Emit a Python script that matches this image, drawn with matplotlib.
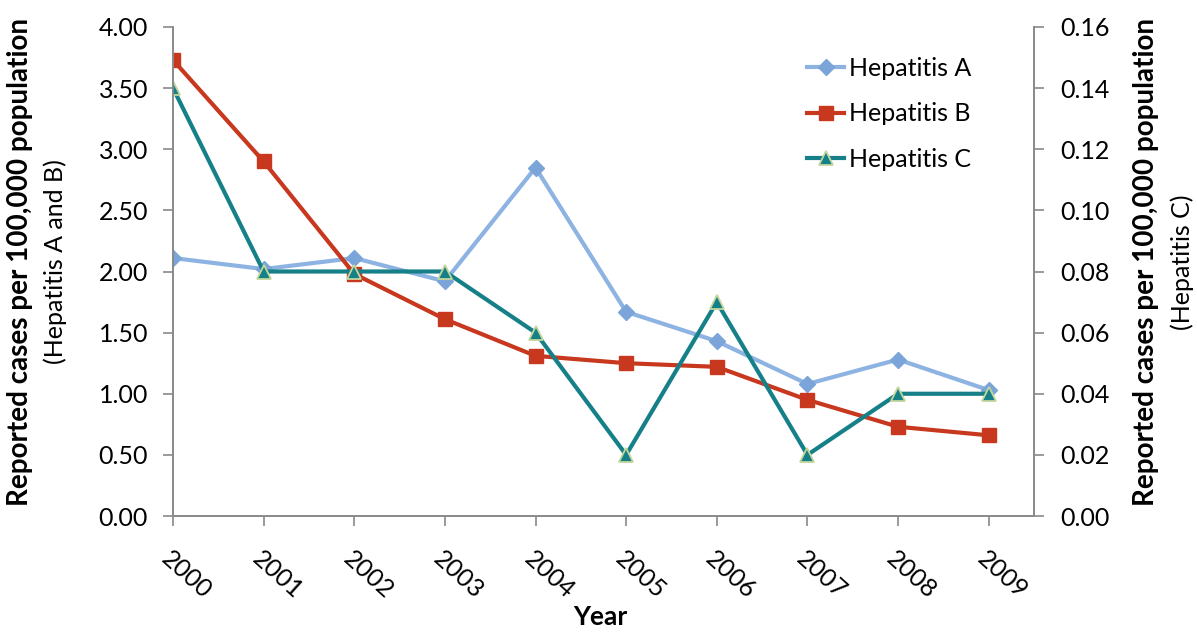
import matplotlib
matplotlib.use("Agg")
import matplotlib.pyplot as plt

plt.rcParams['font.family'] = ['Lato', 'DejaVu Sans']

years = ['2000', '2001', '2002', '2003', '2004', '2005', '2006', '2007', '2008', '2009']
hep_a = [2.11, 2.02, 2.11, 1.92, 2.85, 1.67, 1.43, 1.08, 1.28, 1.03]
hep_b = [3.73, 2.90, 1.98, 1.61, 1.31, 1.25, 1.22, 0.95, 0.73, 0.66]
hep_c = [0.14, 0.08, 0.08, 0.08, 0.06, 0.02, 0.07, 0.02, 0.04, 0.04]

x = list(range(len(years)))
W, H = 1197, 632

fig = plt.figure(figsize=(W / 100, H / 100), dpi=100)
ax = fig.add_axes([173/W, 1 - 516/H, (1034 - 173)/W, (516 - 27)/H])
ax2 = ax.twinx()

la, = ax.plot(x, hep_a, color='#8DB3E2', lw=3, marker='D', ms=8,
              mfc='#7BA4D8', mec='#7BA4D8', label='Hepatitis A')
lb, = ax.plot(x, hep_b, color='#C8381E', lw=3, marker='s', ms=10,
              mfc='#C8381E', mec='#C8381E', label='Hepatitis B')
lc, = ax2.plot(x, hep_c, color='#168089', lw=3, marker='^', ms=10,
               mfc='#168089', mec='#C3D69B', mew=1.3, label='Hepatitis C')

ax.set_xlim(0, 9.5)
ax.set_ylim(0, 4)
ax2.set_ylim(0, 0.16)
ax.set_yticks([i * 0.5 for i in range(9)])
ax.set_yticklabels(['%.2f' % (i * 0.5) for i in range(9)])
ax2.set_yticks([i * 0.02 for i in range(9)])
ax2.set_yticklabels(['%.2f' % (i * 0.02) for i in range(9)])
ax.set_xticks(x)
ax.set_xticklabels(years, rotation=-42, ha='left', va='top', rotation_mode='anchor')

for a in (ax, ax2):
    for s in a.spines.values():
        s.set_color('#898989')
        s.set_linewidth(1.2)
    a.spines['top'].set_visible(False)
    a.tick_params(colors='#898989', labelcolor='black', labelsize=18, length=7, width=1.2)
ax.tick_params(axis='y', pad=11)
ax2.tick_params(axis='y', pad=12)
ax.tick_params(axis='x', pad=15)

# axis titles
fig.text(20/W, 1 - 262/H, 'Reported cases per 100,000 population', rotation=90,
         ha='center', va='center', fontsize=20, fontweight='bold')
fig.text(55/W, 1 - 262/H, '(Hepatitis A and B)', rotation=90,
         ha='center', va='center', fontsize=18)
fig.text(1146/W, 1 - 262/H, 'Reported cases per 100,000 population', rotation=90,
         ha='center', va='center', fontsize=20, fontweight='bold')
fig.text(1182/W, 1 - 262/H, '(Hepatitis C)', rotation=90,
         ha='center', va='center', fontsize=18)
fig.text(600/W, 3/H, 'Year', ha='center', va='bottom', fontsize=19, fontweight='bold')

ax.legend(handles=[la, lb, lc], loc='upper left', bbox_to_anchor=(0.71, 0.985),
          frameon=False, fontsize=18, handlelength=1.5, labelspacing=0.9,
          handletextpad=0.2)

fig.savefig('out.png', dpi=100)
